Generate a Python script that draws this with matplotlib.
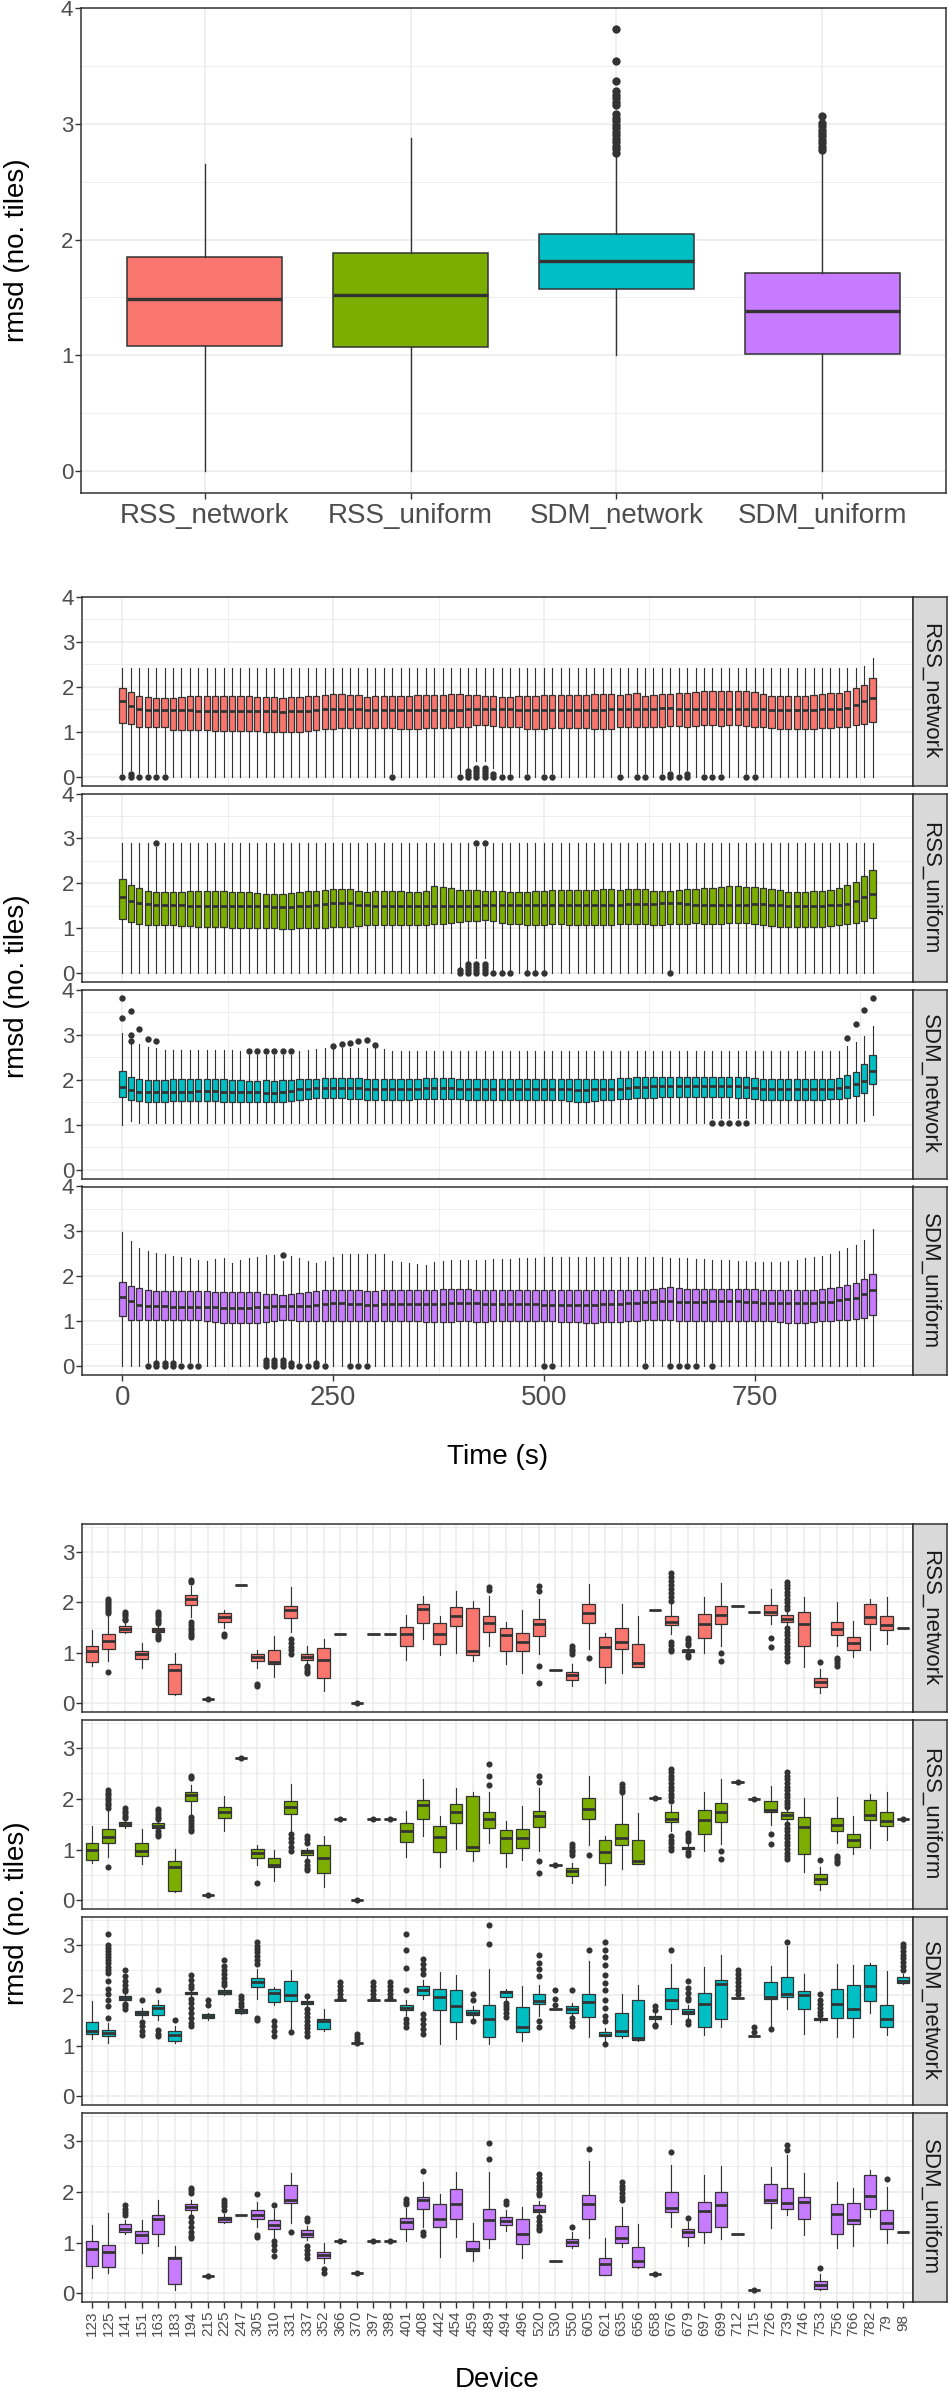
import matplotlib
matplotlib.use('Agg')
import matplotlib.pyplot as plt
from matplotlib.ticker import MultipleLocator

plt.rcParams['font.family'] = ['Liberation Sans', 'DejaVu Sans']

# ---------------------------------------------------------------- data
METHODS = ['RSS_network', 'RSS_uniform', 'SDM_network', 'SDM_uniform']
COLORS = ['#F8766D', '#7CAE00', '#00BFC4', '#C77CFF']

# overall boxes (top panel)
TOP_Q1 = [1.08, 1.07, 1.57, 1.01]
TOP_MED = [1.49, 1.52, 1.81, 1.38]
TOP_Q3 = [1.85, 1.88, 2.05, 1.71]
TOP_LO = [0.0, 0.0, 1.0, 0.0]
TOP_HI = [2.65, 2.88, 2.73, 2.76]
TOP_OUT = {
    'SDM_network': [3.82, 3.54, 3.37, 3.28, 3.25, 3.22, 3.19, 3.16, 3.08, 3.05,
                    3.02, 2.99, 2.96, 2.93, 2.90, 2.87, 2.84, 2.81, 2.78, 2.75],
    'SDM_uniform': [3.07, 3.01, 2.98, 2.95, 2.92, 2.89, 2.86, 2.83, 2.80, 2.77],
}

# per time step (middle panel), t = 0, 10, ..., 890 s
TIMES = list(range(0, 900, 10))

RSS_NET_Q1 = [1.19, 1.17, 1.12, 1.10, 1.10, 1.10, 1.05, 1.05, 1.04, 1.04,
              1.04, 1.03, 1.03, 1.03, 1.03, 1.03, 1.03, 1.01, 1.00, 0.99,
              0.99, 1.00, 1.02, 1.04, 1.06, 1.07, 1.08, 1.08, 1.08, 1.08,
              1.08, 1.08, 1.08, 1.06, 1.06, 1.07, 1.08, 1.08, 1.08, 1.09,
              1.10, 1.12, 1.15, 1.16, 1.13, 1.12, 1.10, 1.10, 1.07, 1.07,
              1.07, 1.08, 1.08, 1.08, 1.08, 1.08, 1.06, 1.06, 1.06, 1.10,
              1.11, 1.12, 1.10, 1.11, 1.12, 1.14, 1.14, 1.12, 1.13, 1.15,
              1.15, 1.14, 1.15, 1.15, 1.14, 1.12, 1.12, 1.08, 1.07, 1.06,
              1.06, 1.06, 1.07, 1.08, 1.08, 1.10, 1.12, 1.15, 1.17, 1.23]
RSS_NET_MED = [1.68, 1.57, 1.52, 1.49, 1.49, 1.48, 1.48, 1.48, 1.48, 1.47,
               1.47, 1.47, 1.47, 1.47, 1.47, 1.47, 1.47, 1.46, 1.46, 1.45,
               1.46, 1.46, 1.47, 1.48, 1.50, 1.51, 1.52, 1.52, 1.51, 1.49,
               1.49, 1.49, 1.49, 1.49, 1.49, 1.49, 1.49, 1.49, 1.49, 1.49,
               1.49, 1.50, 1.51, 1.52, 1.51, 1.50, 1.50, 1.49, 1.49, 1.49,
               1.49, 1.49, 1.49, 1.49, 1.49, 1.49, 1.49, 1.49, 1.50, 1.50,
               1.51, 1.51, 1.52, 1.52, 1.53, 1.53, 1.52, 1.51, 1.51, 1.51,
               1.51, 1.51, 1.51, 1.51, 1.51, 1.50, 1.50, 1.49, 1.49, 1.49,
               1.49, 1.49, 1.49, 1.50, 1.50, 1.51, 1.54, 1.60, 1.68, 1.75]
RSS_NET_Q3 = [1.98, 1.88, 1.79, 1.77, 1.76, 1.76, 1.76, 1.78, 1.79, 1.79,
              1.79, 1.79, 1.79, 1.79, 1.79, 1.79, 1.78, 1.78, 1.77, 1.76,
              1.77, 1.78, 1.79, 1.80, 1.82, 1.84, 1.84, 1.83, 1.82, 1.78,
              1.79, 1.80, 1.80, 1.80, 1.81, 1.82, 1.82, 1.83, 1.83, 1.84,
              1.84, 1.83, 1.82, 1.80, 1.79, 1.78, 1.78, 1.79, 1.80, 1.81,
              1.82, 1.82, 1.82, 1.83, 1.82, 1.83, 1.84, 1.84, 1.84, 1.83,
              1.85, 1.86, 1.80, 1.82, 1.84, 1.85, 1.86, 1.87, 1.89, 1.90,
              1.91, 1.91, 1.91, 1.91, 1.91, 1.88, 1.84, 1.81, 1.80, 1.80,
              1.80, 1.81, 1.83, 1.84, 1.86, 1.87, 1.92, 1.97, 2.05, 2.19]
RSS_NET_LO = [0.08, 0.15, 0.08, 0.08, 0.08, 0.08, 0.00, 0.00, 0.00, 0.00,
              0.00, 0.00, 0.00, 0.00, 0.00, 0.00, 0.00, 0.00, 0.00, 0.00,
              0.00, 0.00, 0.00, 0.00, 0.00, 0.00, 0.00, 0.00, 0.00, 0.00,
              0.00, 0.00, 0.08, 0.00, 0.00, 0.00, 0.00, 0.00, 0.00, 0.00,
              0.08, 0.20, 0.36, 0.36, 0.20, 0.08, 0.08, 0.00, 0.08, 0.00,
              0.08, 0.08, 0.00, 0.00, 0.00, 0.00, 0.00, 0.00, 0.00, 0.08,
              0.00, 0.08, 0.08, 0.00, 0.08, 0.15, 0.08, 0.15, 0.00, 0.08,
              0.08, 0.08, 0.00, 0.00, 0.08, 0.08, 0.00, 0.00, 0.00, 0.00,
              0.00, 0.00, 0.00, 0.00, 0.00, 0.00, 0.00, 0.00, 0.00, 0.00]
RSS_NET_HI = [2.42, 2.42, 2.42, 2.42, 2.42, 2.42, 2.42, 2.42, 2.42, 2.42,
              2.42, 2.42, 2.42, 2.42, 2.42, 2.42, 2.42, 2.42, 2.42, 2.42,
              2.42, 2.42, 2.42, 2.42, 2.42, 2.42, 2.42, 2.42, 2.42, 2.42,
              2.42, 2.42, 2.42, 2.42, 2.42, 2.42, 2.42, 2.42, 2.42, 2.42,
              2.42, 2.42, 2.42, 2.42, 2.42, 2.42, 2.42, 2.42, 2.42, 2.42,
              2.42, 2.42, 2.42, 2.42, 2.42, 2.42, 2.42, 2.42, 2.42, 2.42,
              2.42, 2.42, 2.42, 2.42, 2.42, 2.42, 2.42, 2.42, 2.42, 2.42,
              2.42, 2.42, 2.42, 2.42, 2.42, 2.42, 2.42, 2.42, 2.42, 2.42,
              2.42, 2.42, 2.42, 2.42, 2.42, 2.42, 2.42, 2.42, 2.46, 2.64]
RSS_NET_OUT = {0: [0], 10: [0, 0.07], 20: [0], 30: [0], 40: [0], 50: [0],
               320: [0], 400: [0], 410: [0, 0.07, 0.14], 420: [0, 0.07, 0.14, 0.21],
               430: [0, 0.07, 0.14, 0.21], 440: [0, 0.07], 450: [0], 460: [0],
               480: [0], 500: [0], 510: [0], 590: [0], 610: [0], 620: [0],
               640: [0], 650: [0, 0.07], 660: [0], 670: [0, 0.07], 690: [0],
               700: [0], 710: [0], 740: [0], 750: [0]}

RSS_UNI_Q1 = [1.20, 1.15, 1.09, 1.08, 1.07, 1.07, 1.07, 1.06, 1.05, 1.04,
              1.03, 1.03, 1.03, 1.02, 1.02, 1.02, 1.02, 1.01, 1.00, 0.99,
              0.99, 1.00, 1.01, 1.02, 1.02, 1.03, 1.03, 1.04, 1.06, 1.07,
              1.07, 1.08, 1.08, 1.08, 1.07, 1.07, 1.08, 1.09, 1.11, 1.13,
              1.15, 1.16, 1.17, 1.18, 1.17, 1.12, 1.10, 1.09, 1.07, 1.07,
              1.08, 1.09, 1.09, 1.08, 1.08, 1.08, 1.07, 1.07, 1.08, 1.09,
              1.10, 1.11, 1.10, 1.08, 1.07, 1.09, 1.11, 1.11, 1.12, 1.11,
              1.10, 1.10, 1.12, 1.13, 1.12, 1.09, 1.08, 1.06, 1.04, 1.03,
              1.03, 1.03, 1.03, 1.04, 1.05, 1.07, 1.09, 1.13, 1.17, 1.24]
RSS_UNI_MED = [1.70, 1.60, 1.57, 1.55, 1.52, 1.52, 1.52, 1.52, 1.51, 1.50,
               1.50, 1.50, 1.50, 1.50, 1.50, 1.50, 1.50, 1.49, 1.48, 1.48,
               1.48, 1.49, 1.51, 1.52, 1.54, 1.56, 1.57, 1.56, 1.53, 1.52,
               1.51, 1.51, 1.51, 1.50, 1.50, 1.50, 1.50, 1.51, 1.51, 1.51,
               1.51, 1.51, 1.51, 1.52, 1.53, 1.53, 1.53, 1.53, 1.53, 1.52,
               1.52, 1.52, 1.52, 1.52, 1.52, 1.52, 1.53, 1.53, 1.53, 1.53,
               1.54, 1.55, 1.55, 1.55, 1.56, 1.57, 1.57, 1.55, 1.52, 1.52,
               1.53, 1.53, 1.53, 1.53, 1.53, 1.54, 1.54, 1.53, 1.52, 1.51,
               1.51, 1.51, 1.51, 1.51, 1.52, 1.53, 1.55, 1.60, 1.69, 1.77]
RSS_UNI_Q3 = [2.09, 1.97, 1.91, 1.83, 1.80, 1.80, 1.80, 1.82, 1.83, 1.83,
              1.83, 1.83, 1.83, 1.82, 1.81, 1.80, 1.79, 1.77, 1.76, 1.77,
              1.79, 1.82, 1.83, 1.83, 1.85, 1.88, 1.88, 1.87, 1.84, 1.82,
              1.83, 1.84, 1.84, 1.83, 1.82, 1.82, 1.84, 1.95, 1.92, 1.89,
              1.86, 1.86, 1.85, 1.84, 1.83, 1.83, 1.82, 1.81, 1.81, 1.83,
              1.84, 1.85, 1.86, 1.86, 1.85, 1.86, 1.86, 1.87, 1.87, 1.86,
              1.87, 1.88, 1.87, 1.84, 1.83, 1.84, 1.86, 1.87, 1.88, 1.89,
              1.91, 1.93, 1.94, 1.94, 1.93, 1.92, 1.90, 1.87, 1.85, 1.82,
              1.81, 1.82, 1.83, 1.84, 1.86, 1.90, 1.97, 2.03, 2.17, 2.29]
RSS_UNI_LO = [0.00, 0.00, 0.00, 0.00, 0.00, 0.00, 0.00, 0.00, 0.00, 0.00,
              0.00, 0.00, 0.00, 0.00, 0.00, 0.00, 0.00, 0.00, 0.00, 0.00,
              0.00, 0.00, 0.00, 0.00, 0.00, 0.00, 0.00, 0.00, 0.00, 0.00,
              0.00, 0.00, 0.00, 0.00, 0.00, 0.00, 0.00, 0.00, 0.00, 0.00,
              0.14, 0.28, 0.35, 0.35, 0.08, 0.08, 0.08, 0.00, 0.08, 0.08,
              0.08, 0.00, 0.00, 0.00, 0.00, 0.00, 0.00, 0.00, 0.00, 0.00,
              0.00, 0.00, 0.00, 0.00, 0.00, 0.08, 0.00, 0.00, 0.00, 0.00,
              0.00, 0.00, 0.00, 0.00, 0.00, 0.00, 0.00, 0.00, 0.00, 0.00,
              0.00, 0.00, 0.00, 0.00, 0.00, 0.00, 0.00, 0.00, 0.00, 0.00]
RSS_UNI_HI = [2.89, 2.89, 2.89, 2.89, 2.82, 2.89, 2.89, 2.89, 2.89, 2.89,
              2.89, 2.89, 2.89, 2.89, 2.89, 2.89, 2.89, 2.89, 2.89, 2.89,
              2.89, 2.89, 2.89, 2.89, 2.89, 2.89, 2.89, 2.89, 2.89, 2.89,
              2.89, 2.89, 2.89, 2.89, 2.89, 2.89, 2.89, 2.89, 2.89, 2.89,
              2.89, 2.89, 2.82, 2.82, 2.89, 2.89, 2.89, 2.89, 2.89, 2.89,
              2.89, 2.89, 2.89, 2.89, 2.89, 2.89, 2.89, 2.89, 2.89, 2.89,
              2.89, 2.89, 2.89, 2.89, 2.89, 2.89, 2.89, 2.89, 2.89, 2.89,
              2.89, 2.89, 2.89, 2.89, 2.89, 2.89, 2.89, 2.89, 2.89, 2.89,
              2.89, 2.89, 2.89, 2.89, 2.89, 2.89, 2.89, 2.89, 2.89, 2.89]
RSS_UNI_OUT = {40: [2.89], 400: [0, 0.07], 410: [0, 0.07, 0.14, 0.21],
               420: [0, 0.07, 0.14, 0.21, 2.89], 430: [0, 0.07, 0.14, 0.21, 2.89],
               440: [0], 450: [0], 460: [0], 480: [0], 490: [0], 500: [0], 650: [0]}

SDM_NET_Q1 = [1.62, 1.55, 1.53, 1.51, 1.52, 1.52, 1.53, 1.53, 1.53, 1.53,
              1.53, 1.53, 1.52, 1.51, 1.51, 1.51, 1.51, 1.51, 1.51, 1.52,
              1.54, 1.56, 1.58, 1.59, 1.59, 1.59, 1.59, 1.58, 1.57, 1.56,
              1.56, 1.56, 1.56, 1.56, 1.56, 1.57, 1.58, 1.58, 1.58, 1.58,
              1.57, 1.56, 1.56, 1.56, 1.56, 1.56, 1.56, 1.56, 1.56, 1.56,
              1.56, 1.56, 1.55, 1.54, 1.52, 1.52, 1.53, 1.55, 1.56, 1.57,
              1.58, 1.60, 1.61, 1.61, 1.62, 1.62, 1.62, 1.62, 1.62, 1.62,
              1.62, 1.62, 1.62, 1.61, 1.60, 1.57, 1.55, 1.55, 1.55, 1.56,
              1.56, 1.56, 1.56, 1.56, 1.57, 1.58, 1.60, 1.64, 1.70, 1.92]
SDM_NET_MED = [1.84, 1.77, 1.74, 1.73, 1.73, 1.73, 1.73, 1.73, 1.74, 1.75,
               1.75, 1.75, 1.74, 1.73, 1.73, 1.73, 1.73, 1.72, 1.72, 1.73,
               1.75, 1.79, 1.81, 1.82, 1.83, 1.83, 1.83, 1.83, 1.82, 1.81,
               1.80, 1.80, 1.80, 1.80, 1.80, 1.81, 1.82, 1.83, 1.83, 1.82,
               1.81, 1.80, 1.80, 1.80, 1.80, 1.80, 1.80, 1.80, 1.80, 1.80,
               1.80, 1.80, 1.80, 1.79, 1.78, 1.78, 1.79, 1.80, 1.80, 1.81,
               1.82, 1.84, 1.85, 1.86, 1.86, 1.86, 1.86, 1.86, 1.86, 1.86,
               1.86, 1.86, 1.86, 1.86, 1.85, 1.82, 1.80, 1.80, 1.80, 1.80,
               1.80, 1.80, 1.80, 1.80, 1.80, 1.82, 1.85, 1.90, 1.97, 2.21]
SDM_NET_Q3 = [2.20, 2.06, 2.03, 2.00, 2.01, 2.01, 2.02, 2.02, 2.02, 2.03,
              2.03, 2.03, 2.02, 2.01, 2.00, 1.98, 1.98, 1.99, 1.98, 1.99,
              2.00, 2.02, 2.03, 2.03, 2.04, 2.04, 2.04, 2.05, 2.04, 2.03,
              2.03, 2.03, 2.03, 2.03, 2.03, 2.03, 2.04, 2.04, 2.04, 2.04,
              2.03, 2.03, 2.03, 2.03, 2.03, 2.03, 2.03, 2.03, 2.03, 2.03,
              2.03, 2.03, 2.03, 2.03, 2.02, 2.02, 2.02, 2.03, 2.03, 2.04,
              2.05, 2.06, 2.06, 2.07, 2.07, 2.07, 2.07, 2.07, 2.07, 2.06,
              2.06, 2.06, 2.06, 2.06, 2.06, 2.04, 2.03, 2.03, 2.03, 2.03,
              2.03, 2.03, 2.03, 2.03, 2.03, 2.04, 2.10, 2.18, 2.35, 2.55]
SDM_NET_LO = [1.00, 1.08, 1.05, 1.05, 1.05, 1.05, 1.05, 1.05, 1.05, 1.05,
              1.05, 1.05, 1.05, 1.05, 1.05, 1.05, 1.05, 1.05, 1.05, 1.05,
              1.05, 1.05, 1.05, 1.05, 1.05, 1.05, 1.05, 1.05, 1.05, 1.05,
              1.05, 1.05, 1.05, 1.05, 1.05, 1.05, 1.05, 1.05, 1.05, 1.05,
              1.05, 1.05, 1.05, 1.05, 1.05, 1.05, 1.05, 1.05, 1.05, 1.05,
              1.05, 1.05, 1.05, 1.05, 1.05, 1.05, 1.05, 1.05, 1.05, 1.05,
              1.05, 1.05, 1.05, 1.05, 1.05, 1.05, 1.05, 1.05, 1.05, 1.05,
              1.16, 1.16, 1.16, 1.16, 1.16, 1.05, 1.05, 1.05, 1.05, 1.05,
              1.05, 1.05, 1.05, 1.05, 1.05, 1.05, 1.05, 1.05, 1.08, 1.22]
SDM_NET_HI = [3.05, 2.80, 2.79, 2.74, 2.70, 2.66, 2.66, 2.66, 2.66, 2.66,
              2.66, 2.66, 2.66, 2.66, 2.64, 2.55, 2.55, 2.55, 2.55, 2.55,
              2.55, 2.64, 2.67, 2.69, 2.70, 2.70, 2.70, 2.70, 2.70, 2.70,
              2.70, 2.68, 2.64, 2.64, 2.64, 2.64, 2.64, 2.64, 2.64, 2.64,
              2.64, 2.64, 2.64, 2.64, 2.64, 2.64, 2.64, 2.64, 2.64, 2.64,
              2.64, 2.64, 2.64, 2.64, 2.64, 2.64, 2.64, 2.64, 2.64, 2.64,
              2.64, 2.64, 2.64, 2.64, 2.64, 2.64, 2.64, 2.64, 2.64, 2.64,
              2.64, 2.64, 2.64, 2.64, 2.64, 2.64, 2.64, 2.64, 2.64, 2.64,
              2.64, 2.64, 2.64, 2.64, 2.64, 2.64, 2.75, 2.85, 2.98, 3.21]
SDM_NET_OUT = {0: [3.82, 3.37], 10: [3.53, 3.01, 2.87], 20: [3.14], 30: [2.90],
               40: [2.87], 150: [2.64], 160: [2.64], 170: [2.64], 180: [2.64],
               190: [2.64], 200: [2.64], 250: [2.75], 260: [2.79], 270: [2.82],
               280: [2.86], 290: [2.88], 300: [2.78], 700: [1.04], 710: [1.04],
               720: [1.04], 730: [1.04], 740: [1.04], 860: [2.94], 870: [3.25],
               880: [3.55], 890: [3.82]}

SDM_UNI_Q1 = [1.12, 1.04, 1.03, 1.03, 1.03, 1.03, 1.03, 1.03, 1.03, 1.03,
              1.01, 0.99, 0.97, 0.96, 0.96, 0.96, 0.97, 0.99, 1.02, 1.03,
              1.03, 1.02, 1.02, 1.02, 1.02, 1.02, 1.01, 1.02, 1.02, 1.02,
              1.01, 1.00, 1.00, 1.00, 1.01, 1.00, 0.99, 0.99, 0.99, 0.99,
              1.00, 1.00, 0.99, 0.99, 1.00, 1.00, 1.00, 1.00, 1.00, 1.00,
              1.00, 1.00, 0.99, 0.98, 0.98, 0.97, 0.97, 0.98, 0.98, 0.99,
              1.00, 1.01, 1.03, 1.04, 1.04, 1.03, 1.02, 1.02, 1.02, 1.02,
              1.01, 1.00, 1.00, 1.00, 1.01, 1.01, 1.01, 1.00, 0.99, 0.97,
              0.96, 0.97, 0.99, 1.01, 1.02, 1.03, 1.04, 1.05, 1.07, 1.14]
SDM_UNI_MED = [1.55, 1.46, 1.37, 1.35, 1.34, 1.34, 1.33, 1.33, 1.33, 1.33,
               1.33, 1.32, 1.31, 1.31, 1.31, 1.31, 1.32, 1.33, 1.34, 1.34,
               1.34, 1.34, 1.35, 1.37, 1.39, 1.40, 1.40, 1.39, 1.38, 1.37,
               1.37, 1.38, 1.38, 1.38, 1.38, 1.38, 1.38, 1.39, 1.39, 1.40,
               1.40, 1.40, 1.40, 1.39, 1.39, 1.38, 1.38, 1.38, 1.38, 1.38,
               1.37, 1.37, 1.37, 1.37, 1.37, 1.37, 1.37, 1.38, 1.38, 1.39,
               1.40, 1.41, 1.43, 1.44, 1.45, 1.45, 1.44, 1.44, 1.44, 1.44,
               1.45, 1.45, 1.45, 1.45, 1.44, 1.43, 1.42, 1.41, 1.40, 1.41,
               1.42, 1.42, 1.42, 1.43, 1.44, 1.47, 1.50, 1.53, 1.61, 1.71]
SDM_UNI_Q3 = [1.88, 1.79, 1.74, 1.70, 1.68, 1.67, 1.68, 1.68, 1.68, 1.68,
              1.68, 1.66, 1.66, 1.66, 1.66, 1.66, 1.65, 1.62, 1.60, 1.58,
              1.62, 1.64, 1.66, 1.68, 1.69, 1.70, 1.71, 1.70, 1.69, 1.68,
              1.68, 1.69, 1.70, 1.71, 1.70, 1.69, 1.69, 1.70, 1.72, 1.73,
              1.73, 1.72, 1.71, 1.70, 1.70, 1.70, 1.70, 1.70, 1.70, 1.70,
              1.70, 1.69, 1.69, 1.69, 1.69, 1.69, 1.70, 1.70, 1.70, 1.70,
              1.70, 1.70, 1.71, 1.73, 1.75, 1.76, 1.74, 1.73, 1.73, 1.73,
              1.73, 1.73, 1.73, 1.73, 1.73, 1.72, 1.71, 1.70, 1.69, 1.69,
              1.69, 1.70, 1.70, 1.72, 1.74, 1.77, 1.82, 1.86, 1.94, 2.06]
SDM_UNI_LO = [0.00, 0.00, 0.00, 0.10, 0.15, 0.15, 0.15, 0.10, 0.10, 0.10,
              0.00, 0.00, 0.00, 0.00, 0.00, 0.00, 0.00, 0.20, 0.20, 0.20,
              0.15, 0.10, 0.10, 0.15, 0.10, 0.00, 0.00, 0.10, 0.10, 0.10,
              0.00, 0.00, 0.00, 0.00, 0.00, 0.00, 0.00, 0.00, 0.00, 0.00,
              0.00, 0.00, 0.00, 0.00, 0.00, 0.00, 0.00, 0.00, 0.00, 0.00,
              0.10, 0.10, 0.00, 0.00, 0.00, 0.00, 0.00, 0.00, 0.00, 0.00,
              0.00, 0.00, 0.10, 0.00, 0.00, 0.10, 0.10, 0.10, 0.10, 0.00,
              0.10, 0.00, 0.00, 0.00, 0.00, 0.00, 0.00, 0.00, 0.00, 0.00,
              0.00, 0.00, 0.00, 0.00, 0.00, 0.00, 0.00, 0.00, 0.00, 0.00]
SDM_UNI_HI = [2.99, 2.78, 2.64, 2.57, 2.53, 2.50, 2.46, 2.43, 2.40, 2.37,
              2.35, 2.38, 2.41, 2.29, 2.37, 2.41, 2.44, 2.47, 2.48, 2.34,
              2.46, 2.40, 2.35, 2.31, 2.35, 2.44, 2.49, 2.50, 2.49, 2.49,
              2.49, 2.49, 2.35, 2.33, 2.29, 2.28, 2.26, 2.32, 2.34, 2.37,
              2.37, 2.37, 2.37, 2.37, 2.38, 2.38, 2.39, 2.40, 2.40, 2.42,
              2.43, 2.43, 2.43, 2.43, 2.43, 2.43, 2.43, 2.43, 2.43, 2.43,
              2.43, 2.43, 2.43, 2.43, 2.43, 2.42, 2.41, 2.40, 2.39, 2.38,
              2.37, 2.37, 2.36, 2.35, 2.34, 2.33, 2.32, 2.32, 2.32, 2.34,
              2.37, 2.40, 2.43, 2.46, 2.50, 2.56, 2.63, 2.70, 2.80, 3.05]
SDM_UNI_OUT = {30: [0], 40: [0, 0.07], 50: [0, 0.07], 60: [0, 0.07], 70: [0],
               80: [0], 90: [0], 170: [0, 0.07, 0.14], 180: [0, 0.07, 0.14],
               190: [0, 0.07, 0.14, 2.48], 200: [0, 0.07], 210: [0], 220: [0],
               230: [0, 0.07], 240: [0], 270: [0], 280: [0], 290: [0], 500: [0],
               510: [0], 620: [0], 650: [0], 660: [0], 670: [0], 680: [0], 700: [0]}

# per device (bottom panel)
DEVICES = ['123', '125', '141', '151', '163', '183', '194', '215', '225', '247',
           '305', '310', '331', '337', '352', '366', '370', '397', '398', '401',
           '408', '442', '454', '459', '489', '494', '496', '520', '530', '550',
           '605', '621', '635', '656', '658', '676', '679', '697', '699', '712',
           '715', '726', '739', '746', '753', '756', '766', '782', '79', '98']

DEV_RSS_NET_Q1 = [0.81, 1.08, 1.42, 0.87, 1.42, 0.19, 1.95, 0.08, 1.62, 2.35,
                  0.84, 0.77, 1.69, 0.85, 0.51, 1.37, 0.00, 1.37, 1.37, 1.13,
                  1.59, 1.17, 1.53, 0.95, 1.42, 1.04, 1.03, 1.33, 0.67, 0.47,
                  1.59, 0.73, 1.08, 0.72, 1.84, 1.55, 1.02, 1.29, 1.57, 1.92,
                  1.80, 1.74, 1.61, 1.13, 0.33, 1.35, 1.06, 1.57, 1.45, 1.49]
DEV_RSS_NET_MED = [1.04, 1.23, 1.48, 0.97, 1.46, 0.66, 2.06, 0.08, 1.70, 2.35,
                   0.91, 0.81, 1.84, 0.91, 0.85, 1.37, 0.00, 1.37, 1.37, 1.37,
                   1.86, 1.37, 1.73, 1.04, 1.60, 1.35, 1.22, 1.58, 0.67, 0.56,
                   1.78, 1.11, 1.22, 0.80, 1.84, 1.62, 1.05, 1.58, 1.74, 1.92,
                   1.80, 1.80, 1.67, 1.58, 0.42, 1.48, 1.19, 1.70, 1.55, 1.49]
DEV_RSS_NET_Q3 = [1.14, 1.37, 1.53, 1.04, 1.50, 0.77, 2.14, 0.08, 1.78, 2.35,
                  0.98, 1.06, 1.93, 0.97, 1.10, 1.37, 0.00, 1.37, 1.37, 1.51,
                  1.97, 1.59, 1.90, 1.89, 1.72, 1.49, 1.39, 1.67, 0.67, 0.63,
                  1.97, 1.31, 1.50, 1.17, 1.84, 1.73, 1.06, 1.77, 1.92, 1.92,
                  1.80, 1.94, 1.74, 1.80, 0.50, 1.62, 1.31, 1.97, 1.73, 1.49]
DEV_RSS_NET_LO = [0.74, 0.83, 1.39, 0.70, 1.39, 0.16, 1.70, 0.08, 1.50, 2.35,
                  0.70, 0.53, 1.42, 0.78, 0.24, 1.37, 0.00, 1.37, 1.37, 0.85,
                  1.27, 0.96, 1.00, 0.84, 1.13, 0.78, 0.60, 0.98, 0.67, 0.35,
                  1.08, 0.40, 0.60, 0.72, 1.84, 1.37, 0.98, 1.00, 1.13, 1.92,
                  1.80, 1.57, 1.55, 0.73, 0.21, 1.13, 0.91, 1.05, 1.17, 1.49]
DEV_RSS_NET_HI = [1.46, 1.75, 1.62, 1.20, 1.55, 1.00, 2.32, 0.08, 1.85, 2.35,
                  1.06, 1.33, 2.31, 1.13, 1.27, 1.37, 0.00, 1.37, 1.37, 1.75,
                  2.13, 1.72, 2.23, 2.02, 2.13, 1.62, 1.84, 2.06, 0.67, 0.78,
                  2.36, 1.39, 1.96, 1.72, 1.84, 1.96, 1.10, 2.11, 2.38, 1.92,
                  1.80, 2.26, 1.80, 2.11, 0.68, 2.01, 1.64, 2.06, 2.11, 1.49]
DEV_RSS_NET_OUT = {
    '125': [2.06, 2.02, 1.98, 1.94, 1.90, 1.86, 1.82, 1.78, 0.63],
    '141': [1.80, 1.76, 1.72, 1.68, 1.65],
    '163': [1.80, 1.76, 1.72, 1.68, 1.64, 1.60, 1.35, 1.31, 1.27],
    '194': [2.45, 2.40, 1.62, 1.55, 1.50, 1.45, 1.40, 1.35, 1.31],
    '215': [0.08], '225': [1.37, 1.33], '305': [0.38, 0.35],
    '331': [1.28, 1.20, 1.12, 1.05, 0.98], '337': [0.75, 0.70, 0.65, 0.60],
    '370': [0.0], '489': [2.30, 2.25], '520': [2.33, 2.22, 0.75, 0.41],
    '550': [1.13, 1.08, 1.03, 0.98], '605': [0.90],
    '676': [2.58, 2.50, 2.42, 2.34, 2.26, 2.18, 2.10, 2.03, 1.22, 1.15, 1.08, 1.03],
    '679': [1.30, 1.25, 1.20, 1.15, 0.95, 0.92], '699': [1.00, 0.83],
    '726': [1.30, 1.11],
    '739': [2.41, 2.35, 2.28, 2.21, 2.14, 2.07, 2.00, 1.93, 1.87, 1.49, 1.42,
            1.35, 1.28, 1.21, 1.14, 1.07, 1.00, 0.92, 0.83],
    '753': [0.81], '756': [0.90, 0.85, 0.80, 0.75]}

DEV_RSS_UNI_Q1 = [0.80, 1.13, 1.46, 0.87, 1.42, 0.19, 1.96, 0.10, 1.63, 2.80,
                  0.84, 0.65, 1.70, 0.90, 0.53, 1.61, 0.00, 1.61, 1.61, 1.14,
                  1.61, 0.95, 1.53, 0.98, 1.43, 0.93, 1.03, 1.45, 0.70, 0.47,
                  1.61, 0.74, 1.08, 0.71, 2.01, 1.55, 1.02, 1.30, 1.55, 2.33,
                  1.99, 1.73, 1.60, 0.91, 0.33, 1.36, 1.06, 1.58, 1.46, 1.60]
DEV_RSS_UNI_MED = [1.00, 1.24, 1.50, 0.97, 1.46, 0.66, 2.07, 0.10, 1.74, 2.80,
                   0.94, 0.70, 1.83, 0.95, 0.83, 1.61, 0.00, 1.61, 1.61, 1.36,
                   1.87, 1.24, 1.73, 1.06, 1.60, 1.23, 1.23, 1.66, 0.70, 0.57,
                   1.80, 0.96, 1.23, 0.78, 2.01, 1.61, 1.04, 1.59, 1.73, 2.33,
                   1.99, 1.78, 1.68, 1.45, 0.43, 1.48, 1.18, 1.68, 1.56, 1.60]
DEV_RSS_UNI_Q3 = [1.13, 1.40, 1.54, 1.13, 1.52, 0.78, 2.14, 0.10, 1.83, 2.80,
                  1.01, 0.84, 1.95, 0.99, 1.08, 1.61, 0.00, 1.61, 1.61, 1.52,
                  1.98, 1.46, 1.90, 2.05, 1.73, 1.38, 1.40, 1.76, 0.70, 0.64,
                  2.01, 1.18, 1.51, 1.18, 2.01, 1.73, 1.06, 1.78, 1.91, 2.33,
                  1.99, 1.96, 1.74, 1.64, 0.51, 1.63, 1.31, 1.98, 1.73, 1.60]
DEV_RSS_UNI_LO = [0.73, 0.86, 1.43, 0.71, 1.39, 0.16, 1.70, 0.10, 1.36, 2.80,
                  0.69, 0.39, 1.36, 0.80, 0.26, 1.61, 0.00, 1.61, 1.61, 0.85,
                  1.26, 0.66, 1.01, 0.78, 1.13, 0.66, 0.80, 0.98, 0.70, 0.34,
                  1.08, 0.31, 0.61, 0.71, 2.01, 1.37, 0.98, 0.98, 1.10, 2.33,
                  1.99, 1.48, 1.55, 0.55, 0.21, 1.13, 0.91, 1.03, 1.18, 1.60]
DEV_RSS_UNI_HI = [1.46, 1.76, 1.60, 1.40, 1.56, 1.01, 2.28, 0.10, 2.05, 2.80,
                  1.08, 1.00, 2.30, 1.04, 1.26, 1.61, 0.00, 1.61, 1.61, 1.75,
                  2.38, 1.66, 2.22, 2.13, 2.13, 1.56, 1.86, 2.22, 0.70, 0.73,
                  2.45, 1.26, 2.10, 1.71, 2.01, 1.88, 1.10, 2.13, 2.39, 2.33,
                  1.99, 2.25, 1.80, 2.01, 0.66, 2.03, 1.66, 2.10, 2.13, 1.60]
DEV_RSS_UNI_OUT = {
    '125': [2.17, 2.12, 2.07, 2.02, 1.97, 1.92, 1.87, 1.82, 0.66],
    '141': [1.81, 1.76, 1.71, 1.66, 1.62],
    '163': [1.80, 1.75, 1.70, 1.65, 1.61, 1.36, 1.31, 1.26],
    '194': [2.45, 2.40, 1.65, 1.58, 1.52, 1.46, 1.40, 1.36],
    '215': [0.10], '247': [2.80], '305': [0.34],
    '331': [1.30, 1.22, 1.14, 1.06, 0.98],
    '337': [1.27, 1.20, 1.13, 0.77, 0.70, 0.63, 0.59],
    '366': [1.61], '370': [0.0], '397': [1.61], '398': [1.61],
    '489': [2.69, 2.45, 2.27], '520': [2.45, 2.32, 0.78, 0.54], '530': [0.70],
    '550': [1.10, 1.05, 1.00, 0.95, 0.90], '605': [0.90],
    '635': [2.30, 2.24, 2.18, 2.13], '658': [2.01],
    '676': [2.59, 2.52, 2.45, 2.38, 2.31, 2.24, 2.17, 2.10, 2.03, 1.96,
            1.26, 1.19, 1.12, 1.05, 1.00],
    '679': [1.33, 1.28, 1.22, 1.16, 0.95, 0.90], '699': [0.98, 0.81],
    '712': [2.33], '715': [1.99], '726': [1.31, 1.10],
    '739': [2.52, 2.45, 2.38, 2.31, 2.24, 2.17, 2.10, 2.03, 1.96, 1.89, 1.83,
            1.50, 1.43, 1.36, 1.29, 1.22, 1.15, 1.08, 1.01, 0.94, 0.87, 0.81],
    '753': [0.80], '756': [0.88, 0.83, 0.78, 0.73], '98': [1.60]}

DEV_SDM_NET_Q1 = [1.24, 1.19, 1.90, 1.61, 1.62, 1.10, 2.02, 1.56, 2.03, 1.66,
                  2.16, 1.86, 1.88, 1.82, 1.34, 1.90, 1.06, 1.90, 1.90, 1.70,
                  2.00, 1.71, 1.47, 1.61, 1.18, 1.96, 1.27, 1.83, 1.72, 1.66,
                  1.58, 1.19, 1.19, 1.12, 1.53, 1.73, 1.63, 1.37, 1.53, 1.95,
                  1.19, 1.93, 1.96, 1.73, 1.51, 1.56, 1.56, 1.88, 1.37, 2.25]
DEV_SDM_NET_MED = [1.30, 1.25, 1.95, 1.65, 1.75, 1.22, 2.05, 1.59, 2.07, 1.69,
                   2.26, 2.05, 2.00, 1.86, 1.49, 1.90, 1.06, 1.90, 1.90, 1.75,
                   2.10, 1.97, 1.79, 1.66, 1.53, 2.06, 1.37, 1.88, 1.72, 1.72,
                   1.87, 1.22, 1.30, 1.16, 1.57, 1.90, 1.68, 1.82, 2.23, 1.95,
                   1.19, 1.97, 2.03, 2.00, 1.53, 1.83, 1.73, 2.18, 1.53, 2.28]
DEV_SDM_NET_Q3 = [1.47, 1.32, 1.98, 1.69, 1.80, 1.29, 2.07, 1.63, 2.10, 1.73,
                  2.34, 2.13, 2.28, 1.88, 1.53, 1.90, 1.06, 1.90, 1.90, 1.80,
                  2.18, 2.13, 2.10, 1.70, 1.80, 2.08, 1.76, 2.03, 1.72, 1.78,
                  2.03, 1.27, 1.66, 1.90, 1.60, 2.15, 1.73, 2.05, 2.30, 1.95,
                  1.19, 2.27, 2.36, 2.08, 1.56, 2.13, 2.20, 2.60, 1.80, 2.36]
DEV_SDM_NET_LO = [1.14, 1.06, 1.86, 1.55, 1.51, 1.06, 1.98, 1.52, 2.00, 1.63,
                  1.93, 1.80, 1.30, 1.78, 1.29, 1.90, 1.06, 1.90, 1.90, 1.62,
                  1.93, 1.04, 1.14, 1.56, 1.04, 1.90, 1.09, 1.60, 1.72, 1.60,
                  1.17, 1.10, 1.15, 1.09, 1.47, 1.44, 1.55, 1.21, 1.37, 1.95,
                  1.19, 1.40, 1.73, 1.24, 1.47, 1.17, 1.17, 1.65, 1.21, 2.22]
DEV_SDM_NET_HI = [1.88, 1.45, 2.04, 1.75, 1.90, 1.39, 2.12, 1.66, 2.16, 1.76,
                  2.52, 2.16, 2.50, 1.95, 1.73, 1.90, 1.06, 1.90, 1.90, 1.90,
                  2.30, 2.46, 2.40, 1.78, 2.52, 2.12, 2.18, 2.20, 1.72, 1.85,
                  2.67, 1.35, 2.03, 2.20, 1.65, 2.62, 1.80, 2.57, 2.79, 1.95,
                  1.19, 2.59, 2.97, 2.43, 1.60, 2.62, 2.60, 2.64, 2.48, 2.43]
DEV_SDM_NET_OUT = {
    '125': [3.22, 2.99, 2.93, 2.87, 2.81, 2.75, 2.69, 2.63, 2.57, 2.51, 2.45,
            2.28, 2.12, 2.03, 1.91, 1.78, 1.55],
    '141': [2.50, 2.38, 2.28, 2.20, 2.12, 2.08, 1.82, 1.78, 1.73],
    '151': [1.90, 1.48, 1.40, 1.30, 1.21], '163': [2.10, 1.31, 1.24, 1.20],
    '183': [1.51],
    '194': [2.40, 2.30, 2.20, 2.15, 1.92, 1.85, 1.75, 1.65, 1.55, 1.45, 1.39],
    '215': [1.90, 1.80], '225': [2.69, 2.58, 2.50, 2.42, 2.35, 2.26, 2.20],
    '247': [1.98, 1.92, 1.85, 1.79],
    '305': [3.05, 2.98, 2.92, 2.85, 2.78, 2.70, 2.62, 1.56, 1.51],
    '310': [1.49, 1.40, 1.30, 1.19], '331': [1.27],
    '337': [1.98, 1.72, 1.65, 1.58, 1.50, 1.42, 1.35, 1.27, 1.19],
    '366': [2.26, 2.18, 2.10, 2.02, 1.95], '370': [1.24, 1.18, 1.12, 1.06],
    '397': [2.26, 2.18, 2.10, 2.02, 1.95], '398': [2.26, 2.18, 2.10, 2.02, 1.95],
    '401': [3.22, 2.90, 2.54, 2.10, 1.53, 1.45, 1.37],
    '408': [2.72, 2.62, 2.52, 2.43, 1.63, 1.53, 1.43, 1.33, 1.24],
    '459': [2.03, 1.90, 1.49], '489': [3.39, 3.02],
    '494': [1.85, 1.78, 1.72, 1.65, 1.58],
    '520': [2.79, 2.64, 2.52, 2.38, 1.49, 1.37], '530': [2.10, 1.93, 1.80],
    '550': [2.10, 1.55, 1.48, 1.39], '605': [2.90],
    '621': [3.05, 2.90, 2.75, 2.60, 2.40, 2.25, 2.10, 1.90, 1.75, 1.60, 1.49, 1.04],
    '658': [1.78, 1.70, 1.42, 1.39], '676': [2.89],
    '679': [2.28, 2.15, 2.05, 1.95, 1.90, 1.50, 1.44],
    '712': [2.50, 2.42, 2.34, 2.26, 2.18, 2.10, 2.02], '715': [1.37, 1.28],
    '726': [1.33], '739': [3.05], '753': [2.03, 1.90, 1.82, 1.75, 1.68, 1.62],
    '98': [3.02, 2.95, 2.88, 2.80, 2.73, 2.66, 2.58, 2.50]}

DEV_SDM_UNI_Q1 = [0.54, 0.51, 1.21, 0.99, 1.17, 0.19, 1.64, 0.34, 1.41, 1.54,
                  1.47, 1.27, 1.78, 1.11, 0.69, 1.04, 0.41, 1.04, 1.04, 1.27,
                  1.66, 1.31, 1.46, 0.84, 1.07, 1.34, 0.97, 1.61, 0.64, 0.94,
                  1.47, 0.37, 0.99, 0.51, 0.39, 1.61, 1.11, 1.21, 1.31, 1.16,
                  0.07, 1.78, 1.67, 1.46, 0.09, 1.17, 1.36, 1.67, 1.26, 1.20]
DEV_SDM_UNI_MED = [0.87, 0.82, 1.27, 1.14, 1.47, 0.69, 1.70, 0.34, 1.46, 1.54,
                   1.54, 1.34, 1.84, 1.17, 0.76, 1.04, 0.41, 1.04, 1.04, 1.41,
                   1.84, 1.47, 1.76, 0.88, 1.44, 1.42, 1.17, 1.65, 0.64, 1.01,
                   1.75, 0.57, 1.09, 0.64, 0.39, 1.68, 1.21, 1.62, 1.73, 1.16,
                   0.07, 1.83, 1.78, 1.80, 0.16, 1.57, 1.44, 1.91, 1.39, 1.20]
DEV_SDM_UNI_Q3 = [1.04, 0.96, 1.36, 1.23, 1.54, 0.71, 1.76, 0.34, 1.51, 1.54,
                  1.64, 1.44, 2.13, 1.24, 0.81, 1.04, 0.41, 1.04, 1.04, 1.49,
                  1.90, 1.76, 2.06, 1.04, 1.67, 1.51, 1.47, 1.73, 0.64, 1.07,
                  1.93, 0.69, 1.32, 0.91, 0.39, 2.00, 1.27, 1.80, 2.00, 1.16,
                  0.07, 2.15, 2.08, 1.90, 0.24, 1.76, 1.78, 2.33, 1.64, 1.20]
DEV_SDM_UNI_LO = [0.31, 0.41, 1.17, 0.79, 0.94, 0.07, 1.55, 0.34, 1.38, 1.54,
                  1.30, 1.08, 1.39, 1.05, 0.60, 1.04, 0.41, 1.04, 1.04, 1.04,
                  1.30, 0.72, 1.11, 0.64, 0.89, 1.22, 0.69, 1.54, 0.64, 0.89,
                  1.09, 0.37, 0.92, 0.49, 0.39, 1.31, 0.94, 0.99, 1.07, 1.16,
                  0.07, 1.29, 1.54, 1.14, 0.07, 0.89, 0.94, 1.51, 0.99, 1.20]
DEV_SDM_UNI_HI = [1.34, 1.59, 1.45, 1.44, 1.83, 0.94, 1.84, 0.34, 1.56, 1.54,
                  1.80, 1.66, 2.36, 1.32, 0.99, 1.04, 0.41, 1.04, 1.04, 1.68,
                  2.20, 1.96, 2.38, 1.39, 2.38, 1.65, 1.70, 1.82, 0.64, 1.20,
                  2.60, 1.09, 1.70, 1.37, 0.39, 2.53, 1.40, 2.33, 2.51, 1.16,
                  0.07, 2.48, 2.73, 2.36, 0.39, 2.20, 2.08, 2.43, 2.10, 1.20]
DEV_SDM_UNI_OUT = {
    '141': [1.73, 1.67, 1.61, 1.55],
    '194': [2.08, 2.03, 1.98, 1.50, 1.40, 1.30, 1.20, 1.13, 1.09],
    '215': [0.34], '225': [1.83, 1.77, 1.71, 1.65], '305': [1.95, 1.14, 1.10],
    '310': [1.73, 1.04, 0.95, 0.85, 0.74], '331': [1.21],
    '337': [1.49, 1.42, 0.94, 0.85, 0.77, 0.69], '352': [0.47, 0.41],
    '366': [1.04], '370': [0.41], '397': [1.04], '398': [1.04],
    '401': [1.85, 1.80, 1.75], '408': [2.40, 1.21, 1.15], '489': [2.96, 2.65],
    '494': [1.82, 1.75],
    '520': [2.35, 2.27, 2.20, 2.12, 2.05, 1.98, 1.93, 1.50, 1.42, 1.35, 1.28, 1.24],
    '550': [1.31], '605': [2.85], '635': [2.20, 2.12, 2.05, 1.98, 1.90, 1.83],
    '658': [0.39], '676': [2.78], '679': [1.49], '715': [0.07],
    '739': [2.93, 2.83], '753': [0.49], '79': [2.25]}

TIME_DATA = [
    (RSS_NET_Q1, RSS_NET_MED, RSS_NET_Q3, RSS_NET_LO, RSS_NET_HI, RSS_NET_OUT),
    (RSS_UNI_Q1, RSS_UNI_MED, RSS_UNI_Q3, RSS_UNI_LO, RSS_UNI_HI, RSS_UNI_OUT),
    (SDM_NET_Q1, SDM_NET_MED, SDM_NET_Q3, SDM_NET_LO, SDM_NET_HI, SDM_NET_OUT),
    (SDM_UNI_Q1, SDM_UNI_MED, SDM_UNI_Q3, SDM_UNI_LO, SDM_UNI_HI, SDM_UNI_OUT),
]
DEVICE_DATA = [
    (DEV_RSS_NET_Q1, DEV_RSS_NET_MED, DEV_RSS_NET_Q3, DEV_RSS_NET_LO, DEV_RSS_NET_HI, DEV_RSS_NET_OUT),
    (DEV_RSS_UNI_Q1, DEV_RSS_UNI_MED, DEV_RSS_UNI_Q3, DEV_RSS_UNI_LO, DEV_RSS_UNI_HI, DEV_RSS_UNI_OUT),
    (DEV_SDM_NET_Q1, DEV_SDM_NET_MED, DEV_SDM_NET_Q3, DEV_SDM_NET_LO, DEV_SDM_NET_HI, DEV_SDM_NET_OUT),
    (DEV_SDM_UNI_Q1, DEV_SDM_UNI_MED, DEV_SDM_UNI_Q3, DEV_SDM_UNI_LO, DEV_SDM_UNI_HI, DEV_SDM_UNI_OUT),
]

# ---------------------------------------------------------------- style
W, H = 948, 2395
INK = '#333333'
GRID = '#EBEBEB'
TICK_TXT = '#4D4D4D'


def frac(x0, y0, x1, y1):
    """pixel box (top-left origin) -> figure fraction rect"""
    return [x0 / W, 1 - y1 / H, (x1 - x0) / W, (y1 - y0) / H]


def style_panel(ax):
    ax.set_facecolor('white')
    ax.set_axisbelow(True)
    ax.grid(True, which='major', color=GRID, linewidth=1.1)
    ax.grid(True, which='minor', color=GRID, linewidth=0.6)
    for sp in ax.spines.values():
        sp.set_color(INK)
        sp.set_linewidth(1.1)
    ax.tick_params(which='major', color=INK, length=4, width=1.0,
                   labelcolor=TICK_TXT, labelsize=16)
    ax.tick_params(axis='y', pad=1.5)
    ax.tick_params(which='minor', length=0)


def draw_boxes(ax, keys, positions, q1, med, q3, lo, hi, out, color, width, lw, ms):
    stats = []
    for i, k in enumerate(keys):
        stats.append(dict(q1=q1[i], med=med[i], q3=q3[i], whislo=lo[i],
                          whishi=hi[i], fliers=out.get(k, [])))
    ax.bxp(stats, positions=positions, widths=width, patch_artist=True,
           showcaps=False, manage_ticks=False,
           boxprops=dict(facecolor=color, edgecolor=INK, linewidth=lw),
           medianprops=dict(color=INK, linewidth=lw * 2.2, solid_capstyle='butt'),
           whiskerprops=dict(color=INK, linewidth=lw * 0.9),
           flierprops=dict(marker='o', markerfacecolor=INK, markeredgecolor='none',
                           markersize=ms))


def add_strip(fig, y0, y1, label):
    sax = fig.add_axes(frac(913, y0, 947, y1))
    sax.set_facecolor('#D9D9D9')
    sax.set_xticks([])
    sax.set_yticks([])
    for sp in sax.spines.values():
        sp.set_color(INK)
        sp.set_linewidth(1.1)
    sax.text(0.5, 0.5, label, rotation=-90, ha='center', va='center',
             fontsize=16, color='#1A1A1A', transform=sax.transAxes)


fig = plt.figure(figsize=(W / 100, H / 100), dpi=100)
fig.patch.set_facecolor('white')

# ---------------------------------------------------------------- top panel
ax = fig.add_axes(frac(81, 8, 946, 493))
style_panel(ax)
pos = [1, 2, 3, 4]
for i, m in enumerate(METHODS):
    draw_boxes(ax, [m], [pos[i]], [TOP_Q1[i]], [TOP_MED[i]], [TOP_Q3[i]],
               [TOP_LO[i]], [TOP_HI[i]], TOP_OUT, COLORS[i], 0.75, 1.1, 6)
ax.set_xlim(0.4, 4.6)
ax.set_ylim(-0.19, 4.0)
ax.set_xticks(pos)
ax.set_xticklabels(METHODS)
ax.tick_params(axis='x', labelsize=20, pad=3)
ax.yaxis.set_major_locator(MultipleLocator(1))
ax.yaxis.set_minor_locator(MultipleLocator(0.5))
fig.text(17 / W, 1 - 250 / H, 'rmsd (no. tiles)', rotation=90,
         ha='center', va='center', fontsize=20)

# ---------------------------------------------------------------- time facets
TIME_ROWS = [(597, 785.5), (793.5, 982), (990, 1178.5), (1186.5, 1375)]
for f, (y0, y1) in enumerate(TIME_ROWS):
    ax = fig.add_axes(frac(82, y0, 913, y1))
    style_panel(ax)
    q1, med, q3, lo, hi, out = TIME_DATA[f]
    draw_boxes(ax, TIMES, TIMES, q1, med, q3, lo, hi, out, COLORS[f], 7.5, 0.9, 4.6)
    ax.set_xlim(-48, 938)
    ax.set_ylim(-0.19, 4.0)
    ax.xaxis.set_major_locator(MultipleLocator(250))
    ax.xaxis.set_minor_locator(MultipleLocator(125))
    ax.yaxis.set_major_locator(MultipleLocator(1))
    ax.yaxis.set_minor_locator(MultipleLocator(0.5))
    if f < 3:
        ax.tick_params(axis='x', which='both', length=0, labelbottom=False)
    else:
        ax.tick_params(axis='x', labelsize=20, pad=3)
    add_strip(fig, y0, y1, METHODS[f])
fig.text(17 / W, 1 - 986 / H, 'rmsd (no. tiles)', rotation=90,
         ha='center', va='center', fontsize=20)
fig.text(497.5 / W, 1 - 1457 / H, 'Time (s)', ha='center', va='center', fontsize=20)

# ---------------------------------------------------------------- device facets
DEV_ROWS = [(1524, 1712), (1720, 1909), (1917, 2105), (2113, 2302)]
dev_pos = list(range(1, len(DEVICES) + 1))
for f, (y0, y1) in enumerate(DEV_ROWS):
    ax = fig.add_axes(frac(82, y0, 913, y1))
    style_panel(ax)
    q1, med, q3, lo, hi, out = DEVICE_DATA[f]
    draw_boxes(ax, DEVICES, dev_pos, q1, med, q3, lo, hi, out, COLORS[f], 0.75, 0.9, 4.4)
    ax.set_xlim(0.4, len(DEVICES) + 0.6)
    ax.set_ylim(-0.17, 3.55)
    ax.set_xticks(dev_pos)
    ax.yaxis.set_major_locator(MultipleLocator(1))
    ax.yaxis.set_minor_locator(MultipleLocator(0.5))
    if f < 3:
        ax.tick_params(axis='x', which='both', length=0, labelbottom=False)
    else:
        ax.set_xticklabels(DEVICES, rotation=90, va='center', ha='center')
        ax.tick_params(axis='x', labelsize=11, pad=11)
    add_strip(fig, y0, y1, METHODS[f])
fig.text(17 / W, 1 - 1913 / H, 'rmsd (no. tiles)', rotation=90,
         ha='center', va='center', fontsize=20)
fig.text(497.5 / W, 1 - 2380 / H, 'Device', ha='center', va='center', fontsize=20)

fig.savefig('out.png', dpi=100, facecolor='white')
